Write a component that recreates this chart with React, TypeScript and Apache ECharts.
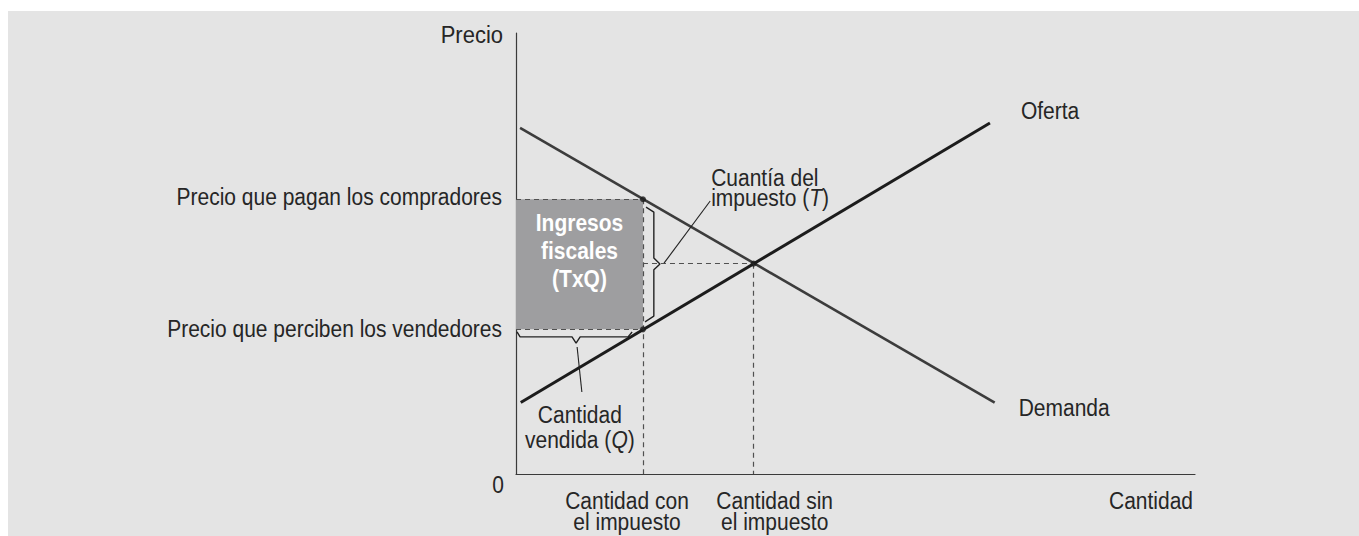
import React, { useEffect, useRef } from "react";
import * as echarts from "echarts";

const FONT = '"Liberation Sans", Arial, Helvetica, sans-serif';
const TEXT_COLOR = "#262626";
const SY = 1.12;

// Curves (quantity, price) in axis units 0..100
const demandPoints = [[0.6, 78.5], [70.5, 16.2]];
const supplyPoints = [[0.7, 16.2], [69.8, 79.6]];

// Key quantities / prices
const qWithTax = 18.7;
const qWithoutTax = 35;
const priceBuyers = 62.3;
const priceSellers = 32.8;
const priceEquilibrium = 47.7;

// Braces and arrows (data coordinates)
const taxBrace = [[19.15, 60.5], [20.3, 59.4], [20.3, 49.0], [21.2, 47.6], [20.3, 46.3], [20.3, 35.8], [19.0, 34.5]];
const quantityBrace = [[0.15, 32.2], [0.6, 31.1], [8.25, 31.1], [8.85, 29.7], [9.45, 31.1], [16.5, 31.1], [17.1, 32.2]];
const taxArrow = [[28.6, 61.9], [21.8, 47.8]];
const quantityArrow = [[9.7, 18.6], [9.0, 28.8]];

// Texts
const yAxisName = "Precio";
const xAxisName = "Cantidad";
const originLabel = "0";
const priceLabels = ["Precio que pagan los compradores", "Precio que perciben los vendedores"];
const quantityLabels = [["Cantidad con", "el impuesto"], ["Cantidad sin", "el impuesto"]];
const curveNames = ["Oferta", "Demanda"];
const taxLabel = ["Cuantía del", "impuesto ({i|T})"];
const quantitySoldLabel = ["Cantidad", "vendida ({i|Q})"];
const revenueLabel = ["Ingresos", "fiscales", "(TxQ)"];

export default function App() {
  const ref = useRef<HTMLDivElement>(null);

  useEffect(() => {
    if (!ref.current) return;
    const chart = echarts.init(ref.current, null, { renderer: "svg" });

    const dashed = { type: [5, 4], color: "#505050", width: 1.2 };
    const axisCommon = {
      type: "value",
      min: 0,
      max: 100,
      axisLine: { show: true, onZero: false, lineStyle: { color: "#3a3a3a", width: 1.2 } },
      axisTick: { show: false },
      axisLabel: { show: false },
      splitLine: { show: false },
    };

    chart.setOption({
      animation: false,
      backgroundColor: "#e4e4e4",
      grid: { left: 508, top: 22, right: 164, bottom: 62 },
      xAxis: axisCommon,
      yAxis: axisCommon,
      series: [
        {
          type: "line",
          name: "area",
          data: [],
          z: 1,
          markArea: {
            silent: true,
            itemStyle: { color: "#9e9ea0", opacity: 1 },
            label: { show: false },
            data: [[{ coord: [0, priceSellers] }, { coord: [qWithTax, priceBuyers] }]],
          },
        },
        {
          type: "line",
          name: "dashes",
          data: [],
          z: 2,
          markLine: {
            silent: true,
            symbol: ["none", "none"],
            label: { show: false },
            lineStyle: dashed,
            data: [
              [{ coord: [0, priceBuyers] }, { coord: [qWithTax, priceBuyers] }],
              [{ coord: [0, priceSellers] }, { coord: [qWithTax, priceSellers] }],
              [{ coord: [qWithTax, priceBuyers] }, { coord: [qWithTax, 0] }],
              [{ coord: [qWithoutTax, priceEquilibrium] }, { coord: [qWithoutTax, 0] }],
              [{ coord: [qWithTax, priceEquilibrium] }, { coord: [qWithoutTax, priceEquilibrium] }],
            ],
          },
        },
        {
          type: "line",
          name: "Demanda",
          data: demandPoints,
          symbol: "none",
          z: 4,
          lineStyle: { color: "#3c3c3c", width: 2.6 },
        },
        {
          type: "line",
          name: "Oferta",
          data: supplyPoints,
          symbol: "none",
          z: 4,
          lineStyle: { color: "#1c1c1c", width: 3 },
        },
        {
          type: "line",
          name: "taxBrace",
          data: taxBrace,
          symbol: "none",
          z: 3,
          lineStyle: { color: "#222", width: 1.4 },
        },
        {
          type: "line",
          name: "quantityBrace",
          data: quantityBrace,
          symbol: "none",
          z: 3,
          lineStyle: { color: "#222", width: 1.4 },
          markLine: {
            silent: true,
            symbol: ["none", "arrow"],
            symbolSize: [0, 11],
            label: { show: false },
            lineStyle: { type: "solid", color: "#222", width: 1.1 },
            data: [
              [{ coord: taxArrow[0] }, { coord: taxArrow[1] }],
              [{ coord: quantityArrow[0] }, { coord: quantityArrow[1] }],
            ],
          },
        },
        {
          type: "scatter",
          name: "points",
          z: 5,
          symbolSize: 6,
          itemStyle: { color: "#1c1c1c" },
          data: [[qWithTax, priceBuyers], [qWithTax, priceSellers], [qWithoutTax, priceEquilibrium]],
        },
      ],
    });

    const px = (p: number[]) => chart.convertToPixel({ gridIndex: 0 }, p) as number[];
    const rich = {
      i: { fontStyle: "italic", fontSize: 21, fontFamily: FONT, fill: TEXT_COLOR },
    };
    const txt = (
      p: number[],
      dx: number,
      dy: number,
      text: string,
      align: string,
      opts: any = {}
    ) => ({
      type: "text",
      x: p[0] + dx,
      y: p[1] + dy,
      scaleY: SY,
      z: 10,
      silent: true,
      style: {
        text,
        fill: opts.fill || TEXT_COLOR,
        fontSize: opts.fontSize || 21,
        fontWeight: opts.fontWeight || "normal",
        fontFamily: FONT,
        align,
        verticalAlign: "middle",
        rich,
      },
    });

    const origin = px([0, 0]);
    const top = px([0, 100]);
    const xEnd = px([100, 0]);
    const pB = px([0, priceBuyers]);
    const pS = px([0, priceSellers]);
    const qT = px([qWithTax, 0]);
    const qE = px([qWithoutTax, 0]);
    const sEnd = px(supplyPoints[1]);
    const dEnd = px(demandPoints[1]);
    const tA = px(taxArrow[0]);
    const qA = px(quantityArrow[0]);
    const rectMid = [(pB[0] + px([qWithTax, priceBuyers])[0]) / 2, pB[1]];

    const graphic = [
      txt(top, -13, 2, yAxisName, "right", { fontSize: 22 }),
      txt(pB, -14, -2, priceLabels[0], "right"),
      txt(pS, -14, 0, priceLabels[1], "right"),
      txt(origin, -18, 11, originLabel, "center"),
      txt(qT, -16, 27, quantityLabels[0][0], "center"),
      txt(qT, -16, 48, quantityLabels[0][1], "center"),
      txt(qE, 21, 27, quantityLabels[1][0], "center"),
      txt(qE, 21, 48, quantityLabels[1][1], "center"),
      txt(xEnd, -2, 27, xAxisName, "right"),
      txt(sEnd, 31, -12, curveNames[0], "left"),
      txt(dEnd, 24, 6, curveNames[1], "left"),
      txt(tA, 1, -23, taxLabel[0], "left"),
      txt(tA, 1, -3, taxLabel[1], "left"),
      txt(qA, -2, 23, quantitySoldLabel[0], "center"),
      txt(qA, -2, 48, quantitySoldLabel[1], "center"),
      txt(rectMid, 0, 24, revenueLabel[0], "center", { fill: "#ffffff", fontWeight: "bold" }),
      txt(rectMid, 0, 52, revenueLabel[1], "center", { fill: "#ffffff", fontWeight: "bold" }),
      txt(rectMid, 0, 80, revenueLabel[2], "center", { fill: "#ffffff", fontWeight: "bold" }),
    ];
    chart.setOption({ graphic });

    return () => chart.dispose();
  }, []);

  return (
    <div
      ref={ref}
      style={{ position: "fixed", left: 8, top: 11, width: 1351, height: 525 }}
    />
  );
}
